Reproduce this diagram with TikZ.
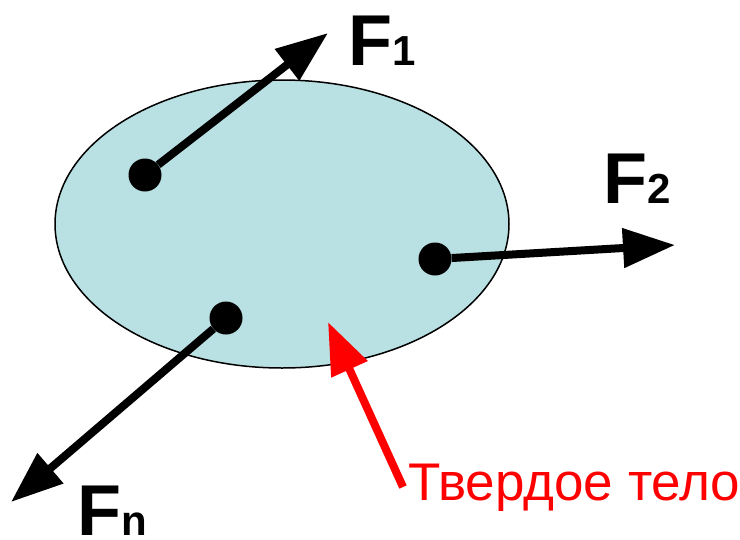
\documentclass[tikz,border=0pt]{standalone}
\usepackage{fontspec}
\setmainfont{Liberation Sans}
\usepackage{xcolor}
\usetikzlibrary{shapes.geometric}
\usetikzlibrary{arrows.meta,positioning}
\definecolor{BodyBackground}{HTML}{B9E0E3}
\definecolor{LabelRed}{HTML}{FF0000}
\tikzstyle{RigidBody} =[draw,ellipse,fill=BodyBackground,line width=1.5pt,minimum width=454pt,minimum height=288pt,inner sep=0pt]
\tikzstyle{ApplicationPoint} =[circle,fill=black,minimum size=33pt,inner sep=0pt]
\tikzstyle{ForceVector} =[-{Triangle[length=52pt,width=38pt]},line width=8pt]
\tikzstyle{ForceLabel} =[anchor=base west,inner sep=0pt,font=\bfseries]
\tikzstyle{Pointer} =[-{Triangle[length=52pt,width=38pt]},line width=8pt,color=LabelRed]
\tikzstyle{PointerLabel} =[anchor=base west,inner sep=0pt,text=LabelRed,font=\fontsize{53}{53}\selectfont]
\newcommand\ForceName[1]{{\fontsize{72}{72}\selectfont F}{\fontsize{42}{42}\selectfont #1}}

\begin{document}
\begin{tikzpicture}[x=1pt,y=-1pt]
\useasboundingbox (0,0) rectangle (740,539);
\node[RigidBody](Body) at (282,224){};
\node[ApplicationPoint](P1) at (145,175){};
\node[ApplicationPoint](P2) at (435,259){};
\node[ApplicationPoint](Pn) at (226,318){};
\coordinate (T1) at (328,33);
\coordinate (T2) at (675,245);
\coordinate (Tn) at (11,502);
\node[ForceLabel](F1) at (348,65){\ForceName{1}};
\node[ForceLabel](F2) at (603,203){\ForceName{2}};
\node[ForceLabel](Fn) at (77,535){\ForceName{n}};
\node[PointerLabel](BodyLabel) at (408,500){Твердое тело};
\coordinate (RedTail) at (403,487);
\coordinate (RedTip) at (328,322);
\draw[ForceVector] (P1) -- (T1);
\draw[ForceVector] (P2) -- (T2);
\draw[ForceVector] (Pn) -- (Tn);
\draw[Pointer] (RedTail) -- (RedTip);
\end{tikzpicture}
\end{document}
